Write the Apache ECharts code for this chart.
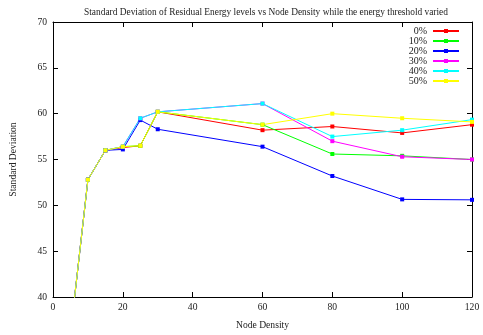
<!DOCTYPE html>
<html>
<head>
<meta charset="utf-8">
<script src="https://cdn.jsdelivr.net/npm/echarts@6/dist/echarts.min.js"></script>
<style>html,body{margin:0;padding:0;background:#fff}#c{width:483px;height:335px}</style>
</head>
<body>
<div id="c"></div>
<script>
const titleText = 'Standard Deviation of Residual Energy levels vs Node Density while the energy threshold varied';
const xName = 'Node Density';
const yName = 'Standard Deviation';
const nodeDensity = [5, 10, 15, 20, 25, 30, 60, 80, 100, 120];
const seriesNames = ['0%', '10%', '20%', '30%', '40%', '50%'];
const s0  = [36, 52.8, 56.0, 56.3, 56.5, 60.2, 58.2, 58.6, 57.9, 58.8];
const s10 = [36, 52.8, 56.0, 56.4, 56.5, 60.2, 58.8, 55.6, 55.4, 55.0];
const s20 = [36, 52.8, 56.0, 56.1, 59.3, 58.3, 56.4, 53.2, 50.65, 50.6];
const s30 = [36, 52.8, 56.0, 56.4, 59.5, 60.2, 61.1, 57.0, 55.3, 55.0];
const s40 = [36, 52.8, 56.0, 56.4, 59.5, 60.2, 61.1, 57.5, 58.2, 59.35];
const s50 = [36, 52.8, 56.0, 56.4, 56.5, 60.2, 58.8, 60.0, 59.5, 59.1];
const colors = ['#ff0000', '#00ff00', '#0000ff', '#ff00ff', '#00ffff', '#ffff00'];
const allSeries = [s0, s10, s20, s30, s40, s50];

const font = 'Liberation Serif';
const chart = echarts.init(document.getElementById('c'), null, {renderer: 'canvas'});
const axisCommon = {
  axisLine: {show: true, onZero: false, lineStyle: {color: '#000', width: 1}},
  axisTick: {show: true, inside: true, length: 5, lineStyle: {color: '#000'}},
  splitLine: {show: false}
};
chart.setOption({
  animation: false,
  backgroundColor: '#fff',
  title: {
    text: titleText, left: 261, textAlign: 'center', top: 3,
    textStyle: {fontFamily: font, fontSize: 9.4, fontWeight: 'normal', color: '#222'}
  },
  grid: {left: 50, right: 11, top: 22, bottom: 33, containLabel: false},
  legend: {
    orient: 'vertical', right: 23, top: 26, align: 'right', padding: 0,
    itemWidth: 26, itemHeight: 5, itemGap: 0,
    textStyle: {fontFamily: font, fontSize: 10, color: '#222', lineHeight: 8.4, padding: [0, 1, 0, 0]},
    data: seriesNames
  },
  xAxis: [
    Object.assign({type: 'value', min: 0, max: 120, interval: 20, name: xName,
      nameLocation: 'middle', nameGap: 23,
      nameTextStyle: {fontFamily: font, fontSize: 9.6, color: '#222'},
      axisLabel: {fontFamily: font, fontSize: 9.6, color: '#222', margin: 5}}, axisCommon),
    Object.assign({type: 'value', position: 'top', min: 0, max: 120, interval: 20,
      axisLabel: {show: false}}, axisCommon)
  ],
  yAxis: [
    Object.assign({type: 'value', min: 40, max: 70, interval: 5, name: yName,
      nameLocation: 'middle', nameGap: 35,
      nameTextStyle: {fontFamily: font, fontSize: 9.6, color: '#222'},
      axisLabel: {fontFamily: font, fontSize: 9.6, color: '#222', margin: 6}}, axisCommon),
    Object.assign({type: 'value', position: 'right', min: 40, max: 70, interval: 5,
      axisLabel: {show: false}}, axisCommon)
  ],
  series: allSeries.map((vals, i) => ({
    name: seriesNames[i],
    type: 'line',
    data: nodeDensity.map((x, j) => [x, vals[j]]),
    color: colors[i],
    lineStyle: {width: 1, color: colors[i]},
    itemStyle: {color: colors[i]},
    symbol: 'rect',
    symbolSize: 4,
    showAllSymbol: true,
    clip: true
  }))
});
</script>
</body>
</html>
